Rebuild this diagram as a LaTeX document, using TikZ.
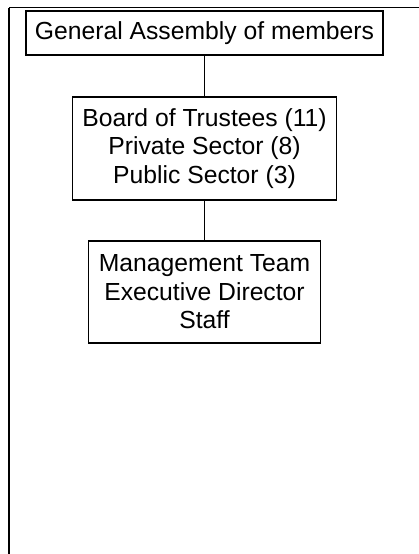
\documentclass[tikz,border=0pt]{standalone}
\usepackage{fontspec}
\setmainfont{Liberation Sans}
\usetikzlibrary{positioning}

\tikzset{
    orgbox/.style={draw, line width=1.1pt, align=center, inner sep=0pt, outer sep=0pt,
        font=\fontsize{24.7}{28.5}\selectfont},
}

\begin{document}
\begin{tikzpicture}[x=1pt, y=-1pt, node distance=42pt]
    \useasboundingbox (0,0) rectangle (419,554);

    % page frame, top and left edge only
    \coordinate (framecorner) at (8.8,7.5);
    \draw[line width=1.8pt] (419,7.5) -- (framecorner);
    \draw[line width=2.6pt] (framecorner) -- (8.8,554);

    \node[orgbox, minimum width=357pt, minimum height=44pt] (assembly) at (204.5,33) {General Assembly of members};
    \node[orgbox, minimum width=264pt, minimum height=103pt, below=of assembly] (board)
        {Board of Trustees (11)\\Private Sector (8)\\Public Sector (3)};
    \node[orgbox, minimum width=232pt, minimum height=102pt, below=41pt of board] (mgmt)
        {Management Team\\Executive Director\\Staff};

    \draw[line width=1.1pt] (assembly) -- (board);
    \draw[line width=1.1pt] (board) -- (mgmt);

\end{tikzpicture}
\end{document}
